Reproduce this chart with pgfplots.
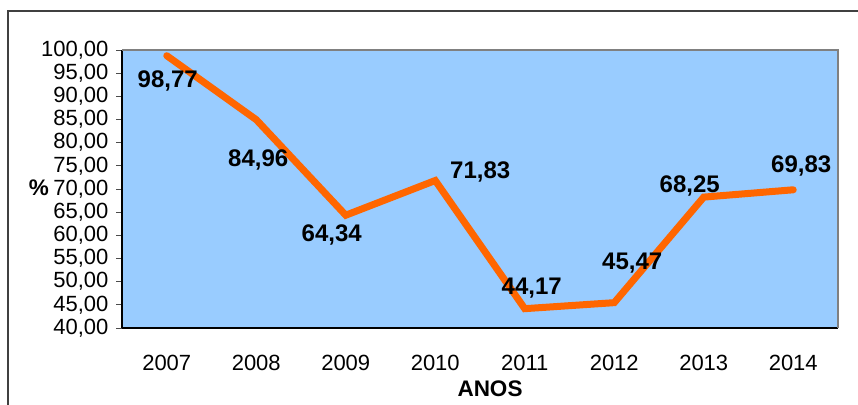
\documentclass[border=0pt]{standalone}
\usepackage{fontspec}
\setmainfont{Liberation Sans}
\usepackage{pgfplots}
\usepackage{pgfplotstable}
\pgfplotsset{compat=1.18}
\definecolor{bgblue}{HTML}{99CCFF}
\definecolor{lineor}{HTML}{FF6600}
\pgfplotstableread{
x y dx dy lab
0 98.77 1 -25 98,77
1 84.96 2 -40 84,96
2 64.34 -14 -20 64,34
3 71.83 45 9 71,83
4 44.17 7 21 44,17
5 45.47 18 40 45,47
6 68.25 -14 11 68,25
7 69.83 8 24 69,83
}\datatab
\begin{document}
\begin{tikzpicture}[x=1pt,y=1pt]
\useasboundingbox (0,0) rectangle (858,404);
\clip (0,0) rectangle (858,404);
\draw[line width=1.5pt, draw=black!75] (8,393) rectangle (900,-20);
\begin{axis}[at={(122pt,76pt)}, anchor=south west, scale only axis,
  width=716pt, height=278pt,
  xmin=-0.5, xmax=7.5, ymin=40, ymax=100,
  axis lines=left, axis line style={-, line width=1.2pt, black},
  axis background/.style={fill=bgblue},
  ytick={40,45,...,100},
  xtick={0,...,7},
  xticklabels={2007,2008,2009,2010,2011,2012,2013,2014},
  extra x ticks={-0.5,0.5,...,7.5},
  extra x tick labels={},
  extra x tick style={major tick length=6pt, tick style={black, line width=0.8pt}},
  x tick style={draw=none},
  tick align=outside,
  major tick length=6pt,
  y tick style={black!70, line width=0.8pt},
  tick label style={font=\fontsize{22}{22}\selectfont},
  yticklabel={\pgfmathprintnumber[fixed, fixed zerofill, precision=2, use comma, assume math mode=true]{\tick}},
  yticklabel style={xshift=-4pt},
  xticklabel style={yshift=-18pt},
  clip=false,
]
\draw[draw=black!50, line width=1.5pt] (rel axis cs:0,1) -- (rel axis cs:1,1) -- (rel axis cs:1,0);
\addplot[lineor, line width=7pt, line cap=round, line join=miter,
  nodes near coords, point meta=explicit symbolic,
  visualization depends on={\thisrow{dx}\as\dx},
  visualization depends on={\thisrow{dy}\as\dy},
  every node near coord/.append style={anchor=center, xshift=\dx pt, yshift=\dy pt,
    font=\bfseries\fontsize{24}{24}\selectfont, text=black, inner sep=0pt}
] table[x=x, y=y, meta=lab]{\datatab};
\end{axis}
\node[font=\bfseries\fontsize{22.5}{22.5}\selectfont] at (39,216) {\%};
\node[font=\bfseries\fontsize{22.5}{22.5}\selectfont] at (490,15) {ANOS};
\end{tikzpicture}
\end{document}
